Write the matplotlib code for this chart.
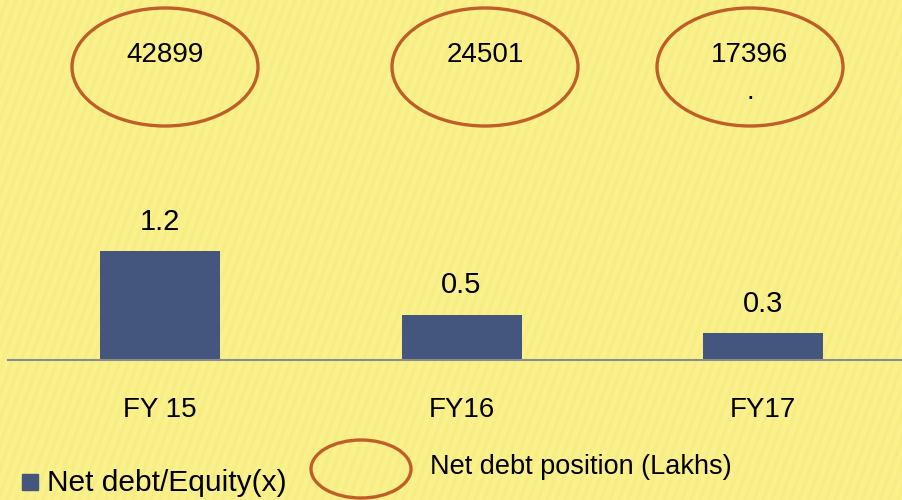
import matplotlib.pyplot as plt
from matplotlib.patches import Ellipse, Rectangle

# 数据
years = ['FY 15', 'FY16', 'FY17']
debt_equity = [1.2, 0.5, 0.3]
net_debt = ['42899', '24501', '17396']

bg = '#FAF18C'
bar_color = '#44567E'
ring_color = '#BF5E27'
font = ['Liberation Sans', 'DejaVu Sans']

fig = plt.figure(figsize=(9.03, 5.0), dpi=100)
fig.patch.set_facecolor(bg)

# 背景的斜向细纹
tex = fig.add_axes([0, 0, 1, 1])
tex.set_xlim(0, 903)
tex.set_ylim(500, 0)
tex.set_axis_off()
for x0 in range(-200, 1000, 9):
    tex.plot([x0, x0 + 180], [500, 0], color='#F3E679', lw=2.5, alpha=0.35)

# 柱状图坐标轴：柱中心间距约301像素，基线在y=360像素处
ax = fig.add_axes([0, 0, 1, 1])
ax.set_facecolor('none')
step = 301.5
ax.set_xlim(-160 / step, (903 - 160) / step)
ax.set_ylim(-140 / 91, 360 / 91)
x = range(len(years))
ax.bar(x, debt_equity, width=120 / step, color=bar_color, zorder=2)
for xi, v in zip(x, debt_equity):
    ax.annotate(f'{v}', (xi, v), xytext=(0, 21), textcoords='offset points',
                ha='center', va='center', fontsize=21, family=font)
for xi, lab in zip(x, years):
    ax.text(xi, -0.55, lab, ha='center', va='center', fontsize=20, family=font)
ax.set_axis_off()

# 覆盖层：按像素坐标画椭圆和图例
ov = fig.add_axes([0, 0, 1, 1])
ov.set_facecolor('none')
ov.set_xlim(0, 903)
ov.set_ylim(500, 0)
ov.set_axis_off()
ov.plot([8, 903], [360, 360], color='#8C8C8C', lw=1.5, zorder=1)

centers = [165, 485, 750]
for cx, val in zip(centers, net_debt):
    ov.add_patch(Ellipse((cx, 67), 186, 118, fill=False, ec=ring_color, lw=2.4))
    ov.text(cx, 55, val, ha='center', va='center', fontsize=20, family=font)
ov.text(centers[2], 92, '.', ha='center', va='center', fontsize=20, family=font)

# 图例
ov.add_patch(Rectangle((22, 474), 16, 16, color=bar_color))
ov.text(47, 483, 'Net debt/Equity(x)', ha='left', va='center', fontsize=21.5, family=font)
ov.add_patch(Ellipse((361, 469), 100, 58, fill=False, ec=ring_color, lw=2.4))
ov.text(430, 467, 'Net debt position (Lakhs)', ha='left', va='center', fontsize=19.5, family=font)

fig.savefig('out.png', dpi=100, facecolor=bg)
